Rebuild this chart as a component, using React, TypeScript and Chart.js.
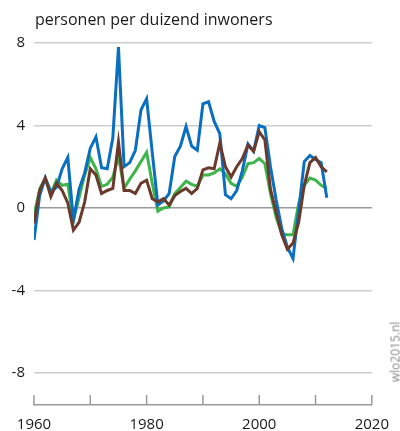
import React, { useEffect, useRef } from "react";
import { Chart, registerables } from "chart.js";

Chart.register(...registerables);

const years: number[] = [];
for (let y = 1960; y <= 2012; y++) years.push(y);

const blueValues = [
  -1.55, 0.6, 1.45, 0.8, 1.0, 1.9, 2.45, -0.6, 0.9, 1.7,
  2.9, 3.45, 1.95, 1.9, 3.4, 7.8, 2.0, 2.2, 2.8, 4.75,
  5.3, 2.7, 0.15, 0.35, 0.7, 2.5, 3.0, 3.95, 3.0, 2.8,
  5.05, 5.15, 4.2, 3.6, 0.65, 0.45, 0.85, 1.8, 3.1, 2.75,
  4.0, 3.9, 2.0, 0.4, -1.0, -1.9, -2.45, -0.1, 2.25, 2.55,
  2.35, 2.2, 0.5,
];

const greenValues = [
  -0.35, 0.9, 1.45, 0.7, 1.35, 1.1, 1.15, -0.6, 0.5, 1.6,
  2.45, 1.9, 1.05, 1.15, 1.5, 2.5, 0.95, 1.4, 1.8, 2.25,
  2.7, 1.2, -0.15, 0.0, 0.05, 0.7, 1.0, 1.3, 1.15, 1.05,
  1.6, 1.6, 1.7, 1.9, 1.65, 1.2, 1.05, 1.5, 2.15, 2.2,
  2.4, 2.15, 0.7, -0.45, -1.25, -1.3, -1.3, 0.2, 1.1, 1.45,
  1.35, 1.1, 0.95,
];

const brownValues = [
  -0.75, 0.85, 1.45, 0.55, 1.2, 0.85, 0.25, -1.07, -0.7, 0.3,
  1.9, 1.6, 0.7, 0.85, 0.95, 3.2, 0.85, 0.85, 0.7, 1.2,
  1.35, 0.45, 0.3, 0.45, 0.15, 0.6, 0.8, 0.95, 0.7, 0.95,
  1.85, 1.95, 1.9, 3.15, 2.0, 1.5, 2.0, 2.4, 3.05, 2.75,
  3.7, 3.3, 0.9, -0.2, -1.3, -2.0, -1.7, -0.7, 1.1, 2.2,
  2.45, 2.0, 1.75,
];

const yTickValues = [-8, -4, 0, 4, 8];
const xLabelValues = [1960, 1980, 2000, 2020];
const xTickMarks = [1960, 1970, 1980, 1990, 2000, 2010, 2020];

const titleText = "personen per duizend inwoners";
const watermarkText = "wlo2015.nl";

const FONT = "'Open Sans', 'DejaVu Sans', sans-serif";

const toPoints = (vals: number[]) => vals.map((v, i) => ({ x: years[i], y: v }));

export default function App() {
  const canvasRef = useRef<HTMLCanvasElement | null>(null);

  useEffect(() => {
    document.body.style.margin = "0";
    const canvas = canvasRef.current;
    if (!canvas) return;

    const upTicks = {
      id: "upTicks",
      afterDraw(chart: any) {
        const xs = chart.scales.x;
        const bottom = chart.chartArea.bottom;
        const ctx = chart.ctx;
        ctx.save();
        ctx.strokeStyle = "#9a9a9a";
        ctx.lineWidth = 1.5;
        xTickMarks.forEach((v) => {
          const px = xs.getPixelForValue(v);
          ctx.beginPath();
          ctx.moveTo(px, bottom - 10);
          ctx.lineTo(px, bottom);
          ctx.stroke();
        });
        ctx.restore();
      },
    };

    const chart = new Chart(canvas, {
      type: "line",
      data: {
        datasets: [
          {
            label: "bruin",
            data: toPoints(brownValues),
            borderColor: "#6b3a2c",
            borderWidth: 3,
            pointRadius: 0,
            tension: 0,
            fill: false,
          },
          {
            label: "blauw",
            data: toPoints(blueValues),
            borderColor: "#0a6fc0",
            borderWidth: 3,
            pointRadius: 0,
            tension: 0,
            fill: false,
          },
          {
            label: "groen",
            data: toPoints(greenValues),
            borderColor: "#3db54a",
            borderWidth: 3,
            pointRadius: 0,
            tension: 0,
            fill: false,
          },
        ],
      },
      options: {
        animation: false,
        responsive: false,
        maintainAspectRatio: false,
        layout: { padding: { top: 43, right: 18, bottom: 0, left: 0 } },
        plugins: {
          legend: { display: false },
          tooltip: { enabled: false },
          title: { display: false },
        },
        scales: {
          x: {
            type: "linear",
            min: 1960,
            max: 2020,
            afterBuildTicks: (scale: any) => {
              scale.ticks = xLabelValues.map((v) => ({ value: v }));
            },
            afterFit: (scale: any) => {
              scale.height = 26;
            },
            grid: { drawOnChartArea: false, drawTicks: false },
            border: { display: true, color: "#9a9a9a", width: 1.5 },
            ticks: {
              padding: 11,
              color: "#1a1a1a",
              font: { family: FONT, size: 15 },
              maxRotation: 0,
              autoSkip: false,
              callback: (v: any) => String(v),
            },
          },
          y: {
            type: "linear",
            min: -9.55,
            max: 8,
            afterBuildTicks: (scale: any) => {
              scale.ticks = yTickValues.map((v) => ({ value: v }));
            },
            afterFit: (scale: any) => {
              scale.width = 34;
            },
            grid: {
              drawTicks: false,
              lineWidth: 1.5,
              color: (ctx: any) => {
                const v = ctx.tick ? ctx.tick.value : null;
                if (v === 0) return "#9a9a9a";
                return "#cdcdcd";
              },
            },
            border: { display: false },
            ticks: {
              padding: 9,
              color: "#1a1a1a",
              font: { family: FONT, size: 15 },
              callback: (v: any) => String(v),
            },
          },
        },
      },
      plugins: [upTicks],
    });

    return () => chart.destroy();
  }, []);

  return (
    <div style={{ position: "relative", width: 400, height: 431, background: "#fff", overflow: "hidden" }}>
      <canvas ref={canvasRef} width={400} height={431} style={{ display: "block" }} />
      <div
        style={{
          position: "absolute",
          left: 35,
          top: 9,
          fontFamily: FONT,
          fontSize: 16,
          lineHeight: "21px",
          color: "#1a1a1a",
          whiteSpace: "nowrap",
        }}
      >
        {titleText}
      </div>
      <div
        style={{
          position: "absolute",
          left: 395,
          top: 352,
          transform: "translate(-50%, -50%) rotate(-90deg)",
          fontFamily: FONT,
          fontSize: 12,
          color: "#8a8a8a",
          whiteSpace: "nowrap",
        }}
      >
        {watermarkText}
      </div>
    </div>
  );
}
